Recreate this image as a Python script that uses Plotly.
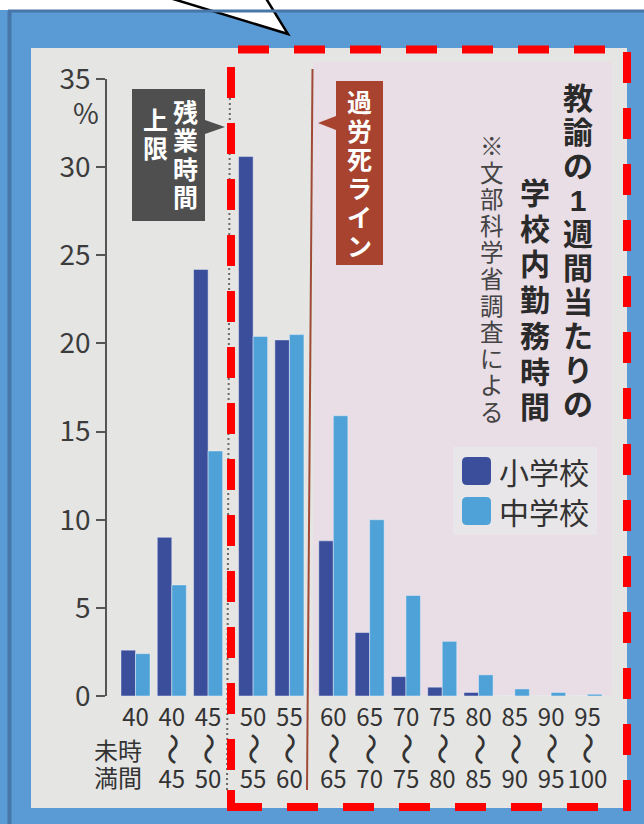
import plotly.graph_objects as go

# ---------------- data ----------------
bin_top = ["40", "40", "45", "50", "55", "60", "65", "70", "75", "80", "85", "90", "95"]
bin_bottom = ["", "45", "50", "55", "60", "65", "70", "75", "80", "85", "90", "95", "100"]
range_mark = "〜"
first_bin_note = ["未時", "満間"]
series_names = ["小学校", "中学校"]
elementary = [2.6, 9.0, 24.2, 30.6, 20.2, 8.8, 3.6, 1.1, 0.5, 0.2, 0.0, 0.0, 0.0]
junior = [2.4, 6.3, 13.9, 20.4, 20.5, 15.9, 10.0, 5.7, 3.1, 1.2, 0.4, 0.2, 0.1]
y_ticks = [0, 5, 10, 15, 20, 25, 30, 35]
y_unit = "%"
overtime_cols = ["残業時間", "上限"]
karoshi_label = "過労死ライン"
title_cols = ["教諭の1週間当たりの", "学校内勤務時間"]
source_note = "※文部科学省調査による"

# ---------------- layout helpers ----------------
W, H = 644, 824
CJK = "Noto Sans CJK JP"
VCJK = "Liberation Sans, Noto Sans CJK JP"
NARROW = "Liberation Sans Narrow, Noto Sans CJK JP"
DARK, LIGHT = "#3a4e9b", "#4ea2d8"


def px(x):
    return x / W


def py(y):
    return 1 - y / H


def path(points, close=True):
    s = "M " + " L ".join(f"{px(x):.5f},{py(y):.5f}" for x, y in points)
    return s + (" Z" if close else "")


# group positions: extra gaps where the two reference lines sit
gap_after_overtime, gap_after_karoshi = 0.24, 0.21
pos = [i + gap_after_overtime * (i >= 3) + gap_after_karoshi * (i >= 5) for i in range(len(bin_top))]
X0PX, UNIT = 135.5, 36.3
ax_left, ax_right = 107, 612
y_top_px, y_bot_px = 79, 696

NB = "\u00a0"
ticktext = [f"{a}<br>{NB}<br>{b if b else NB}" for a, b in zip(bin_top, bin_bottom)]

fig = go.Figure()
fig.add_bar(x=pos, y=elementary, name=series_names[0],
            marker=dict(color=DARK, line=dict(color="rgba(235,238,248,0.6)", width=0.8)))
fig.add_bar(x=pos, y=junior, name=series_names[1],
            marker=dict(color=LIGHT, line=dict(color="rgba(235,240,248,0.6)", width=0.8)))

shapes = []
ann = []


def rect(x0, y0, x1, y1, color, layer="below"):
    return dict(type="rect", xref="paper", yref="paper", x0=px(x0), x1=px(x1), y0=py(y0), y1=py(y1),
                fillcolor=color, line_width=0, layer=layer)


# backgrounds
shapes.append(rect(0, 10, W, H, "#5b9bd5"))
shapes.append(dict(type="path", xref="paper", yref="paper", path=path([(150, -8), (288, 34), (262, -8)]),
                   fillcolor="white", line=dict(color="black", width=2.5), layer="below"))
shapes.append(dict(type="line", xref="paper", yref="paper", x0=px(8), x1=px(W), y0=py(11), y1=py(11),
                   line=dict(color="#4677a8", width=3), layer="below"))
shapes.append(dict(type="line", xref="paper", yref="paper", x0=px(9.5), x1=px(9.5), y0=py(11), y1=py(H),
                   line=dict(color="#4677a8", width=4), layer="below"))
shapes.append(rect(31, 48, 627, 808, "#e5e5e4"))
shapes.append(rect(313, 62, 612, 695, "#e9dde6"))
shapes.append(rect(453, 447, 597, 535, "#e8e6e8"))


def rrect(x0, y0, x1, y1, r, color):
    d = (f"M {px(x0 + r):.5f},{py(y0):.5f} L {px(x1 - r):.5f},{py(y0):.5f} Q {px(x1):.5f},{py(y0):.5f} {px(x1):.5f},{py(y0 + r):.5f} "
         f"L {px(x1):.5f},{py(y1 - r):.5f} Q {px(x1):.5f},{py(y1):.5f} {px(x1 - r):.5f},{py(y1):.5f} "
         f"L {px(x0 + r):.5f},{py(y1):.5f} Q {px(x0):.5f},{py(y1):.5f} {px(x0):.5f},{py(y1 - r):.5f} "
         f"L {px(x0):.5f},{py(y0 + r):.5f} Q {px(x0):.5f},{py(y0):.5f} {px(x0 + r):.5f},{py(y0):.5f} Z")
    return dict(type="path", xref="paper", yref="paper", path=d, fillcolor=color, line_width=0, layer="above")


shapes.append(rrect(462, 457, 491, 485, 5, DARK))
shapes.append(rrect(462, 497, 491, 525, 5, LIGHT))
ann.append(dict(text=series_names[0], x=px(497), y=py(471), xanchor="left", yanchor="middle",
                font=dict(family=CJK, size=30, color="#333")))
ann.append(dict(text=series_names[1], x=px(497), y=py(511), xanchor="left", yanchor="middle",
                font=dict(family=CJK, size=30, color="#333")))

# reference lines
shapes.append(dict(type="line", xref="paper", yref="paper", x0=px(230), x1=px(227), y0=py(68), y1=py(790),
                   line=dict(color="#6a6a6a", width=2, dash="2px,3px"), layer="above"))
shapes.append(dict(type="line", xref="paper", yref="paper", x0=px(312.5), x1=px(307), y0=py(69), y1=py(790),
                   line=dict(color="#a04a36", width=2), layer="above"))

# overtime box / karoshi box
shapes.append(dict(type="path", xref="paper", yref="paper",
                   path=path([(132, 89), (205, 89), (205, 120), (225, 127), (205, 134), (205, 221), (132, 221)]),
                   fillcolor="#4f4f4f", line_width=0, layer="above"))
shapes.append(dict(type="path", xref="paper", yref="paper",
                   path=path([(336, 81), (383, 81), (383, 265), (336, 265), (336, 130), (318, 123), (336, 116)]),
                   fillcolor="#a8432f", line_width=0, layer="above"))


def vtext(s, x, y_first, pitch, glyph, color, weight="normal"):
    """Vertical (top-to-bottom) text: one annotation, one character per line."""
    base = pitch / 1.3
    body = "<br>".join(f"<span style='font-size:{glyph}px'>{ch}</span>" for ch in s)
    y_mid = y_first + (len(s) - 1) * pitch / 2
    ann.append(dict(text=body, x=px(x), y=py(y_mid), xanchor="center", yanchor="middle", borderpad=0,
                    font=dict(family=VCJK, size=base, color=color, weight=weight)))


vtext(overtime_cols[0], 185, 112.5, 28.4, 25, "white", "bold")
vtext(overtime_cols[1], 155, 121, 28.4, 25, "white", "bold")
vtext(karoshi_label, 359.5, 103, 28.7, 25, "white", "bold")
vtext(title_cols[0], 578, 98.4, 34.0, 30, "#2a2a2a", "bold")
vtext(title_cols[1], 535, 193.6, 35.7, 30, "#2a2a2a", "bold")
vtext(source_note, 491.5, 147, 26.6, 23.5, "#444")

ann.append(dict(text=y_unit, x=px(86), y=py(112), xanchor="center", yanchor="middle",
                font=dict(family=CJK, size=28, color="#3c3c3c")))
for r, yy in zip(first_bin_note, (751, 778.5)):
    ann.append(dict(text=r, x=px(118), y=py(yy), xanchor="center", yanchor="middle", borderpad=0,
                    font=dict(family=VCJK, size=24, color="#333")))

# vertical range marks between the two numbers of each bin
for p, b in zip(pos, bin_bottom):
    if b:
        ann.append(dict(text=range_mark, x=p, y=py(749), xref="x", yref="paper", textangle=90,
                        xanchor="center", yanchor="middle", borderpad=0, showarrow=False,
                        font=dict(family=VCJK, size=32, color="#333")))

# red dashed frame
RED = "#ff0000"
dash = "31px,25px"
for pts in ([(238, 49.5), (627, 49.5)], [(627, 52), (627, 811)], [(287, 807), (627, 807)], [(231, 67), (231, 775)]):
    shapes.append(dict(type="path", xref="paper", yref="paper", path=path(pts, close=False),
                       line=dict(color=RED, width=8, dash=dash), layer="above"))
shapes.append(dict(type="path", xref="paper", yref="paper", path=path([(231, 790), (231, 807), (262, 807)], close=False),
                   line=dict(color=RED, width=8), layer="above"))

for a in ann:
    a.setdefault("xref", "paper")
    a.setdefault("yref", "paper")
    a["showarrow"] = False

fig.update_layout(
    width=W, height=H, autosize=False,
    margin=dict(l=0, r=0, t=0, b=0, pad=0, autoexpand=False),
    paper_bgcolor="white", plot_bgcolor="rgba(0,0,0,0)",
    barmode="group", bargap=0.2, bargroupgap=0.0,
    showlegend=False,
    shapes=shapes, annotations=ann,
    xaxis=dict(domain=[px(ax_left), px(ax_right)],
               range=[(ax_left - X0PX) / UNIT, (ax_right - X0PX) / UNIT],
               tickmode="array", tickvals=pos, ticktext=ticktext, ticks="", ticklabelstandoff=5,
               showgrid=False, zeroline=False, showline=False, automargin=False,
               tickfont=dict(family=NARROW, size=24, color="#333")),
    yaxis=dict(domain=[py(y_bot_px), py(y_top_px)], range=[0, 35],
               tickmode="array", tickvals=y_ticks, ticks="outside", ticklen=9,
               tickwidth=1.5, tickcolor="#555", showline=True, linecolor="#555", linewidth=1.5,
               showgrid=False, zeroline=False, automargin=False,
               tickfont=dict(family=CJK, size=28, color="#3c3c3c")),
)

fig.write_html("out.html", config={"displayModeBar": False},
               post_script="document.body.style.margin='0';document.body.style.overflow='hidden';")
